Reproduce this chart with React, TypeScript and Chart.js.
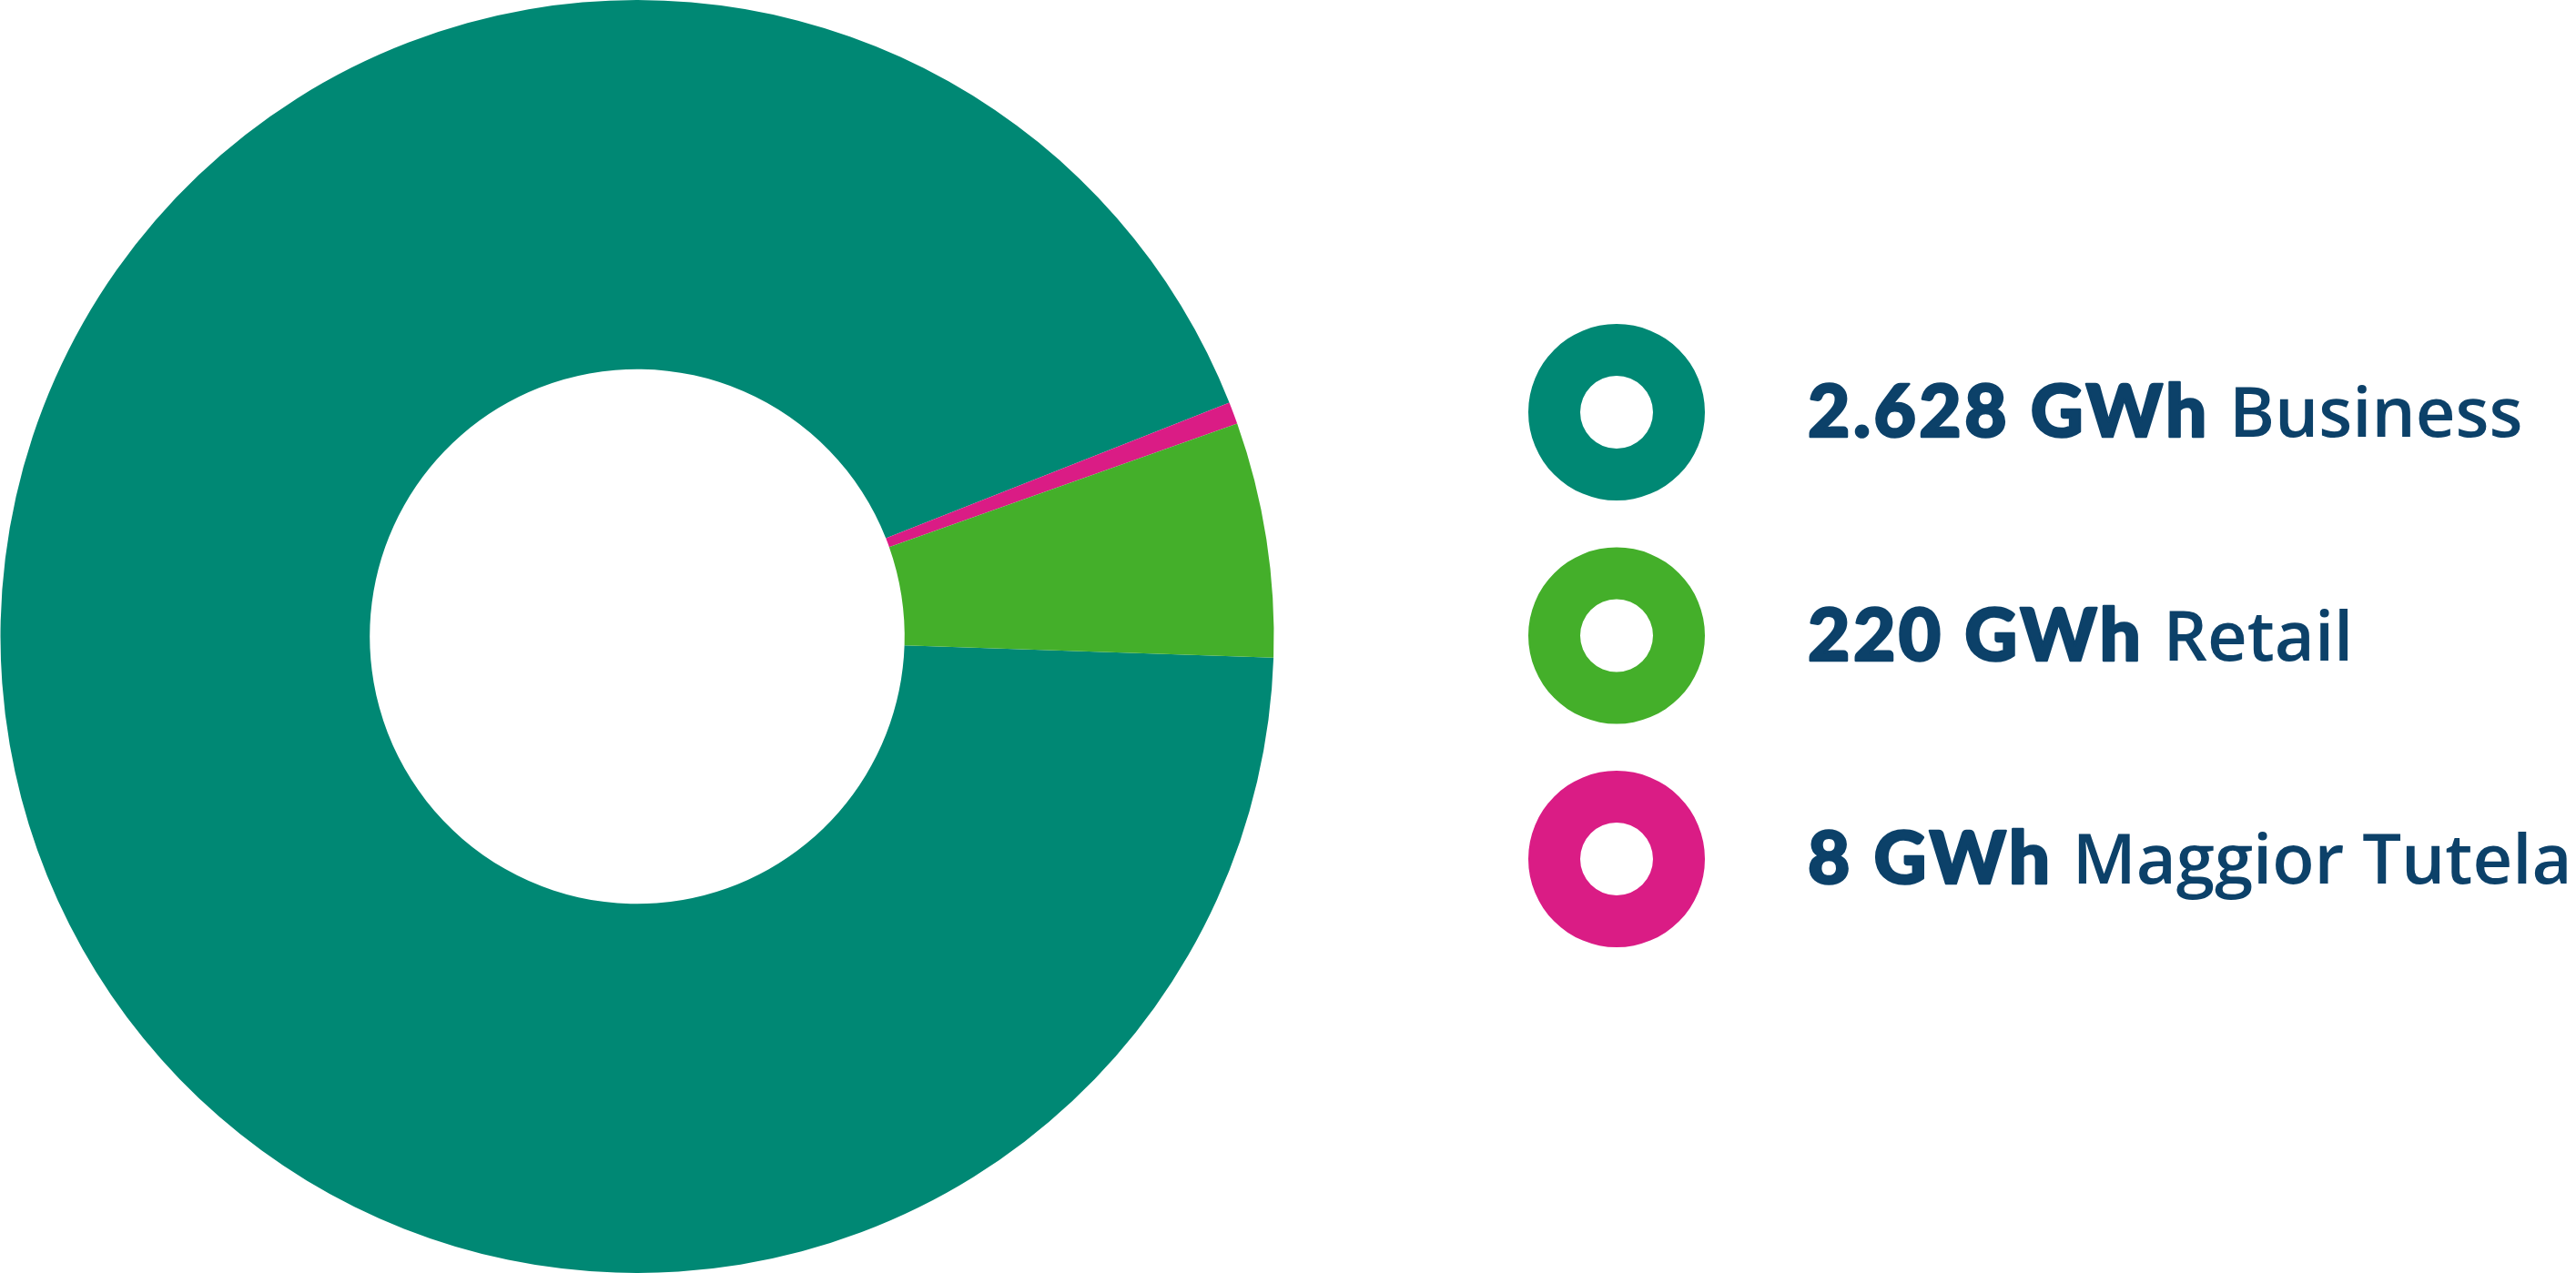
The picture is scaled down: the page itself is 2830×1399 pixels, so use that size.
import React, { useEffect, useRef } from "react";
import { Chart, registerables } from "chart.js";

Chart.register(...registerables);

// Legend order
const categories = ["Business", "Retail", "Maggior Tutela"];
const energyGWh = [2628, 220, 8];
const valueLabels = ["2.628 GWh", "220 GWh", "8 GWh"];
// share of the ring as drawn in the picture (percent)
const sliceShares = [93.48, 5.96, 0.56];
const colors = ["#008874", "#44AF2A", "#DA1C85"];

// drawing order around the ring (clockwise from just below 3 o'clock)
const drawOrder = [0, 2, 1];

const TEXT_COLOR = "#0C4169";

const legendPlugin = {
  id: "ringLegend",
  afterDraw(chart: any) {
    const ctx = chart.ctx as any;
    const cx = 1776;
    const top = 453;
    const step = 245.5;
    ctx.save();
    categories.forEach((cat, i) => {
      const cy = top + i * step;
      ctx.beginPath();
      ctx.arc(cx, cy, 97, 0, Math.PI * 2);
      ctx.arc(cx, cy, 40, 0, Math.PI * 2, true);
      ctx.fillStyle = colors[i];
      ctx.fill("evenodd");
      ctx.fillStyle = TEXT_COLOR;
      ctx.strokeStyle = TEXT_COLOR;
      ctx.lineJoin = "round";
      ctx.textBaseline = "alphabetic";
      ctx.textAlign = "left";
      const baseY = cy + 27;
      ctx.font = "900 80px Lato";
      ctx.letterSpacing = "3.5px";
      const x0 = 1986;
      ctx.fillText(valueLabels[i], x0, baseY);
      ctx.lineWidth = 2.5;
      ctx.strokeText(valueLabels[i], x0, baseY);
      const w = ctx.measureText(valueLabels[i]).width;
      ctx.font = "600 76px 'Open Sans'";
      ctx.letterSpacing = "0px";
      ctx.fillText(cat, x0 + w + 21, baseY);
    });
    ctx.restore();
  },
};

export default function App() {
  const ref = useRef<HTMLCanvasElement | null>(null);
  useEffect(() => {
    document.body.style.margin = "0";
    document.body.style.overflow = "hidden";
    if (!ref.current) return;
    const chart = new Chart(ref.current, {
      type: "doughnut",
      data: {
        labels: drawOrder.map((i) => categories[i]),
        datasets: [
          {
            data: drawOrder.map((i) => sliceShares[i]),
            backgroundColor: drawOrder.map((i) => colors[i]),
            borderWidth: 0,
            hoverOffset: 0,
          },
        ],
      },
      options: {
        responsive: false,
        animation: false,
        rotation: 91.91,
        cutout: "42%",
        layout: { padding: { left: 0, right: 1430, top: 0, bottom: 0 } },
        plugins: {
          legend: { display: false },
          tooltip: { enabled: false },
        },
      },
      plugins: [legendPlugin],
    });
    return () => chart.destroy();
  }, []);
  return (
    <div style={{ width: 2830, height: 1399, background: "#fff" }}>
      <canvas ref={ref} width={2830} height={1399} style={{ display: "block" }} />
    </div>
  );
}
